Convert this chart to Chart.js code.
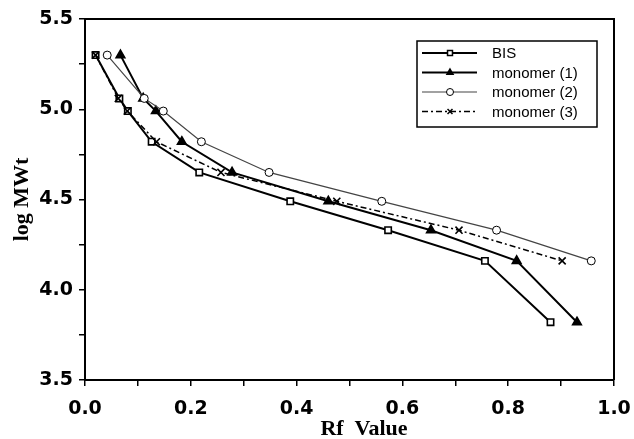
<!DOCTYPE html>
<html>
<head>
<meta charset="utf-8">
<script src="https://cdn.jsdelivr.net/npm/chart.js@4/dist/chart.umd.min.js"></script>
<style>
  html, body { margin: 0; padding: 0; background: #fff; }
  #wrap { width: 634px; height: 439px; }
</style>
</head>
<body>
<div id="wrap"><canvas id="myChart" width="634" height="439"></canvas></div>
<script>
// values (Rf vs log MWt)
var logMWt = [5.3, 5.06, 4.99, 4.82, 4.65, 4.49, 4.33, 4.16, 3.82];

var rfBIS   = [0.02, 0.065, 0.081, 0.126, 0.216, 0.388, 0.573, 0.756, 0.88];
var rfMono1 = [0.067, 0.11, 0.134, 0.183, 0.278, 0.46, 0.654, 0.816, 0.93];
var rfMono2 = [0.042, 0.112, 0.148, 0.22, 0.348, 0.561, 0.778, 0.957];
var rfMono3 = [0.02, 0.063, 0.08, 0.135, 0.257, 0.476, 0.707, 0.902];

var seriesNames = ['BIS', 'monomer (1)', 'monomer (2)', 'monomer (3)'];
var xTickLabels = ['0.0', '0.2', '0.4', '0.6', '0.8', '1.0'];
var yTickLabels = ['3.5', '4.0', '4.5', '5.0', '5.5'];
var xTitle = 'Rf  Value';
var yTitle = 'log MWt';

function pts(xs, ys) {
  var out = [];
  for (var i = 0; i < xs.length; i++) out.push({x: xs[i], y: ys[i]});
  return out;
}

var styles = [
  {pointStyle: 'rect', radius: 4.5, fill: '#fff', lineColor: '#000', width: 2, dash: []},
  {pointStyle: 'triangle', radius: 5, fill: '#000', lineColor: '#000', width: 2, dash: []},
  {pointStyle: 'circle', radius: 4, fill: '#fff', lineColor: '#444', width: 1.2, dash: []},
  {pointStyle: 'crossRot', radius: 5, fill: '#000', lineColor: '#000', width: 1.5, dash: [6, 3, 2, 3]}
];

var seriesData = [
  pts(rfBIS, logMWt),
  pts(rfMono1, logMWt),
  pts(rfMono2, logMWt),
  pts(rfMono3, logMWt)
];

var datasets = [];
for (var i = 0; i < seriesNames.length; i++) {
  var s = styles[i];
  datasets.push({
    label: seriesNames[i],
    data: seriesData[i],
    showLine: true,
    borderColor: s.lineColor,
    borderWidth: s.width,
    borderDash: s.dash,
    pointStyle: s.pointStyle,
    pointRadius: s.radius,
    pointBackgroundColor: s.fill,
    pointBorderColor: '#000',
    pointBorderWidth: i == 2 ? 1 : 1.6,
    tension: 0,
    clip: false,
    order: 4 - i
  });
}

// frame, x title and the boxed legend
var boxLegend = {
  id: 'boxLegend',
  afterDraw: function(chart) {
    var ctx = chart.ctx;
    var a = chart.chartArea;
    ctx.save();
    ctx.strokeStyle = '#000';
    ctx.lineWidth = 2;
    ctx.beginPath();
    ctx.moveTo(a.left, a.top);
    ctx.lineTo(a.right, a.top);
    ctx.lineTo(a.right, a.bottom);
    ctx.stroke();

    // x axis title sits a bit right of centre in the original
    ctx.fillStyle = '#000';
    ctx.font = 'bold 22px "Liberation Serif", "Times New Roman", serif';
    ctx.textAlign = 'center';
    ctx.textBaseline = 'middle';
    ctx.fillText(xTitle, 364, 429);

    ctx.lineWidth = 1.5;
    ctx.strokeRect(417, 41, 180, 86);
    ctx.font = '15px "Liberation Sans", Arial, sans-serif';
    ctx.textAlign = 'left';
    for (var k = 0; k < seriesNames.length; k++) {
      var st = styles[k];
      var y = 53 + k * 19.5;
      ctx.strokeStyle = st.lineColor;
      ctx.lineWidth = st.width;
      ctx.setLineDash(st.dash);
      ctx.beginPath();
      ctx.moveTo(422, y);
      ctx.lineTo(477, y);
      ctx.stroke();
      ctx.setLineDash([]);
      ctx.fillStyle = st.fill;
      ctx.strokeStyle = '#000';
      ctx.lineWidth = k == 2 ? 1 : 1.5;
      Chart.helpers.drawPoint(ctx, {pointStyle: st.pointStyle, radius: 3.5, rotation: 0, borderWidth: 1.5}, 450, y);
      ctx.fillStyle = '#000';
      ctx.fillText(seriesNames[k], 492, y + 1);
    }
    ctx.restore();
  }
};

var tickFont = {family: '"DejaVu Sans", Verdana, sans-serif', size: 19, weight: 'bold'};
var titleFont = {family: '"Liberation Serif", "Times New Roman", serif', size: 22, weight: 'bold', lineHeight: 1};

var myChart = new Chart(document.getElementById('myChart').getContext('2d'), {
  type: 'scatter',
  data: {datasets: datasets},
  plugins: [boxLegend],
  options: {
    responsive: false,
    animation: false,
    devicePixelRatio: 1,
    layout: {padding: {left: 0, right: 20, top: 19, bottom: 0}},
    plugins: {legend: {display: false}, tooltip: {enabled: false}},
    scales: {
      x: {
        type: 'linear',
        min: 0, max: 1,
        afterFit: function(sc) {
          sc.height = 59;
          sc.paddingLeft = 0;
          sc.paddingRight = 0;
        },
        ticks: {
          stepSize: 0.1, autoSkip: false, maxRotation: 0, color: '#000', font: tickFont, padding: 12,
          callback: function(v) {
            var n = Math.round(v * 10);
            return n % 2 === 0 ? xTickLabels[n / 2] : '';
          }
        },
        grid: {display: true, drawOnChartArea: false, drawTicks: true, tickLength: 6, color: '#000', lineWidth: 1.5},
        border: {display: true, color: '#000', width: 2},
        title: {display: false}
      },
      y: {
        type: 'linear',
        min: 3.5, max: 5.5,
        afterFit: function(sc) {
          sc.width = 85;
          sc.paddingTop = 0;
          sc.paddingBottom = 0;
        },
        ticks: {
          stepSize: 0.25, autoSkip: false, color: '#000', font: tickFont, padding: 6,
          callback: function(v) {
            var n = Math.round(v * 4);
            return n % 2 === 0 ? yTickLabels[(n - 14) / 2] : '';
          }
        },
        grid: {display: true, drawOnChartArea: false, drawTicks: true, tickLength: 6, color: '#000', lineWidth: 1.5},
        border: {display: true, color: '#000', width: 2},
        title: {display: true, text: yTitle, color: '#000', font: titleFont, padding: {top: 11, bottom: 0}}
      }
    }
  }
});
</script>
</body>
</html>
